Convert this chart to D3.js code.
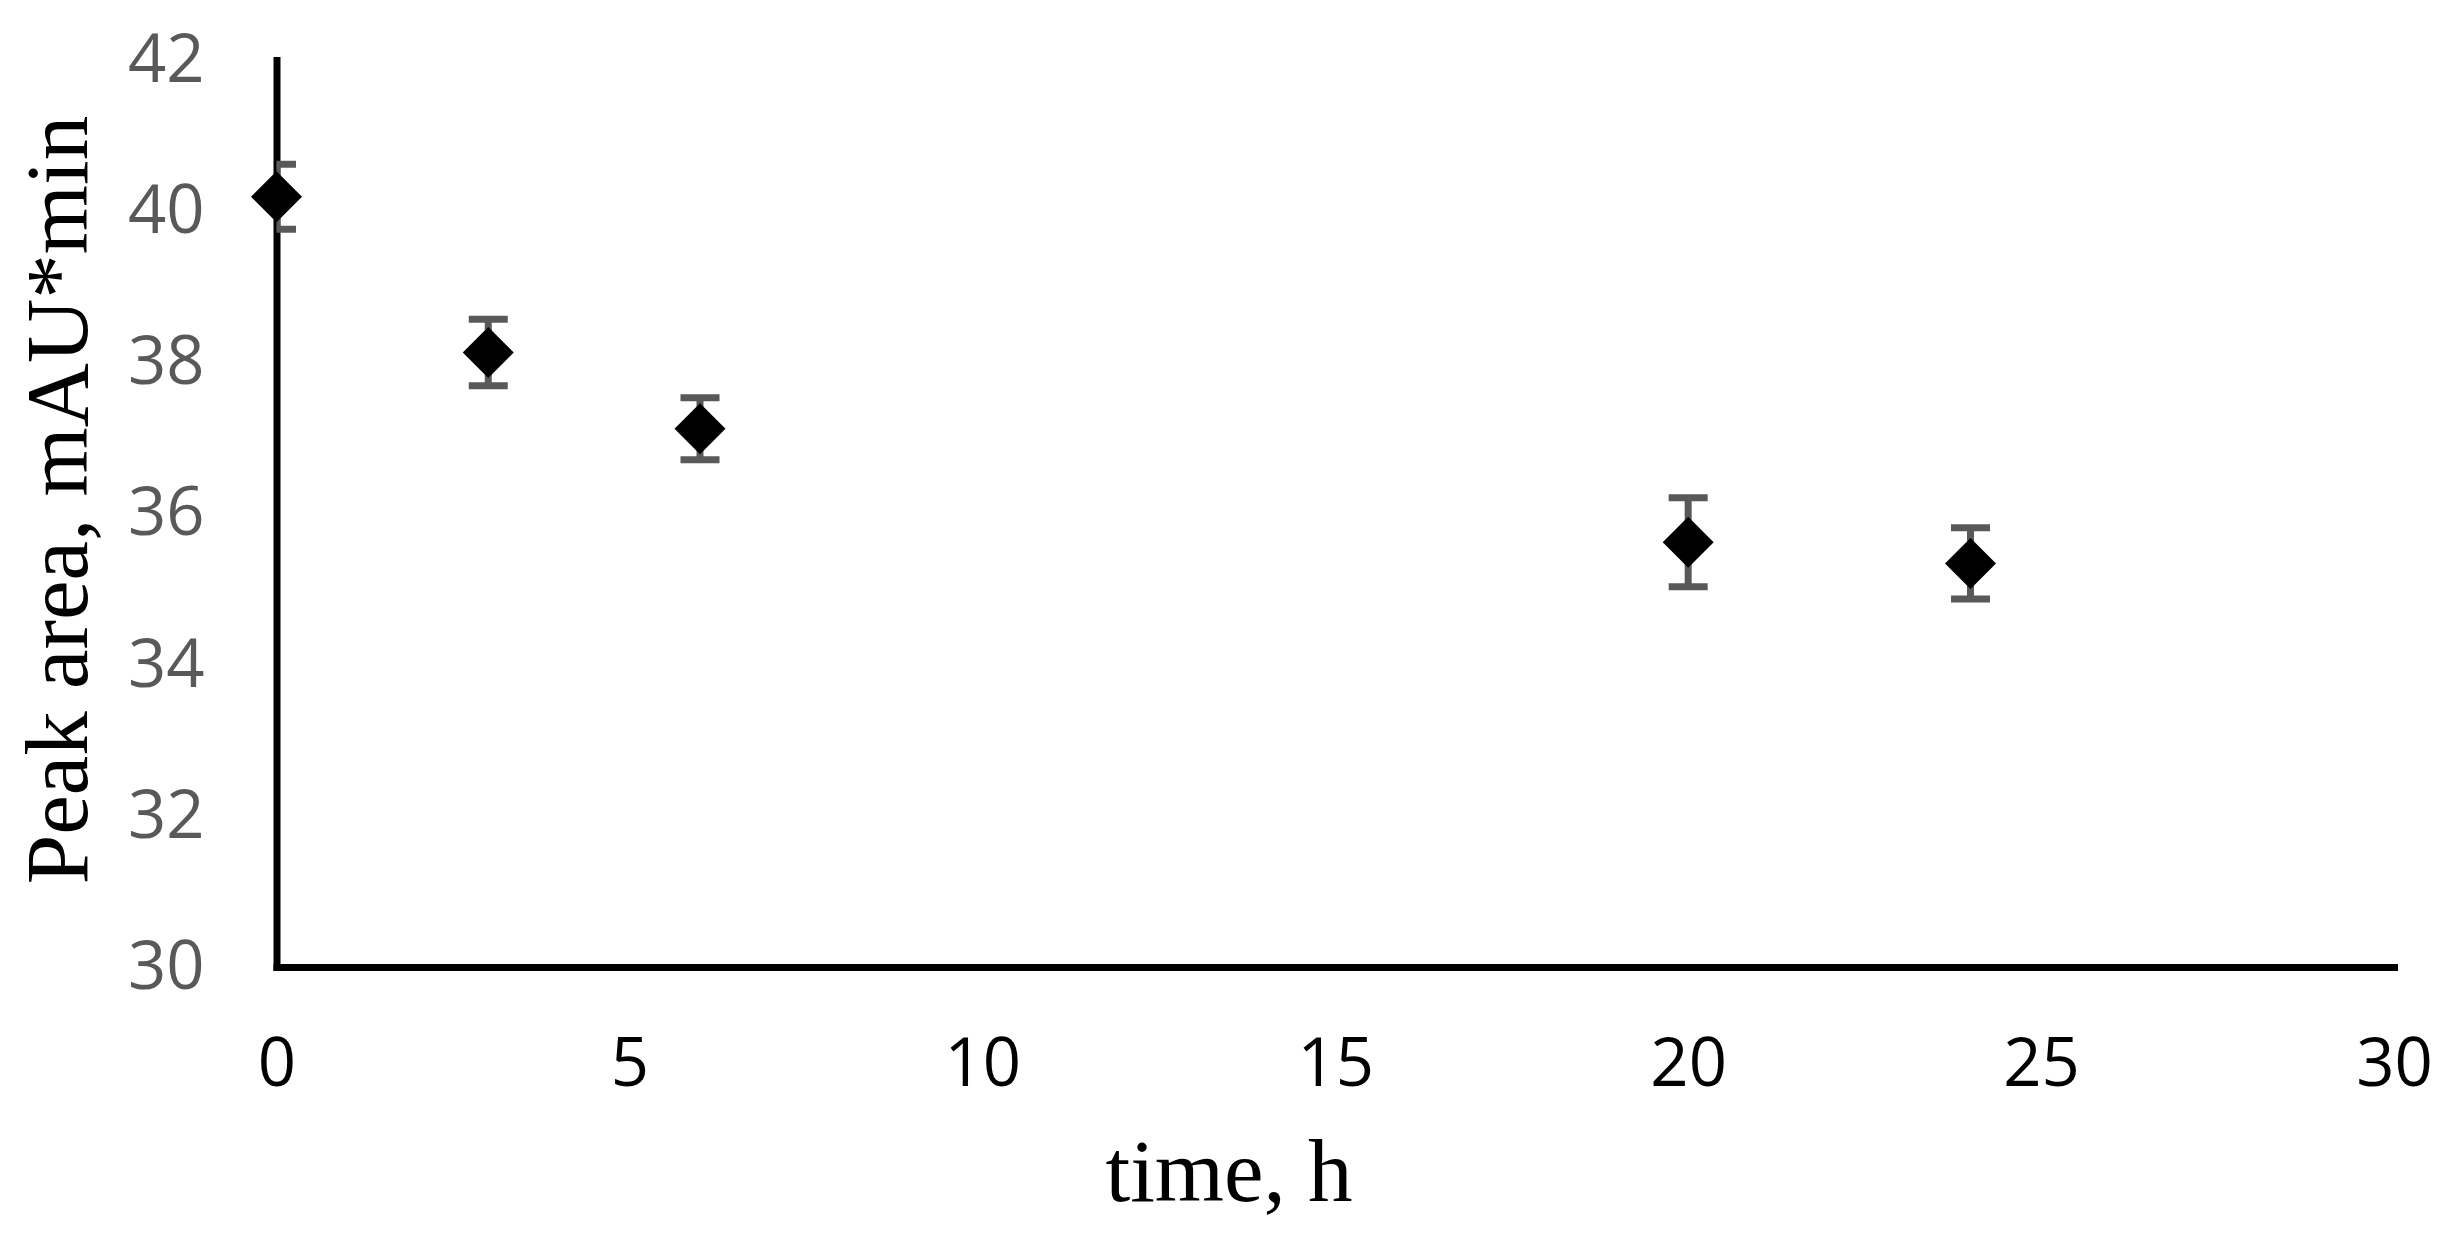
<!DOCTYPE html>
<html>
<head>
<meta charset="utf-8">
<script src="https://cdn.jsdelivr.net/npm/d3@7"></script>
<style>
  body { margin: 0; background: #fff; }
  svg { display: block; }
</style>
</head>
<body>
<svg width="2456" height="1237"></svg>
<script>
// data
const times = [0, 3, 6, 20, 24];
const peakArea = [40.19, 38.13, 37.12, 35.62, 35.34];
const errors = [0.43, 0.44, 0.41, 0.59, 0.47];
const xTicks = [0, 5, 10, 15, 20, 25, 30];
const yTicks = [30, 32, 34, 36, 38, 40, 42];

const data = times.map((t, i) => ({t: t, v: peakArea[i], e: errors[i]}));

const svg = d3.select("svg");

const x = d3.scaleLinear().domain([0, 30]).range([276.5, 2394]);
const y = d3.scaleLinear().domain([30, 42]).range([967, 60]);

const tickFont = "'Open Sans', 'Noto Sans', sans-serif";
const titleFont = "'Palatino Linotype', 'Book Antiqua', Palatino, 'Liberation Serif', serif";

// clip for error bars (plot area)
svg.append("defs").append("clipPath")
    .attr("id", "plotClip")
    .append("rect")
    .attr("x", x(0))
    .attr("y", 0)
    .attr("width", x(30) - x(0))
    .attr("height", y(30));

// y axis
const yAxis = svg.append("g")
    .attr("transform", `translate(${x(0)},0)`)
    .call(d3.axisLeft(y).tickValues(yTicks).tickSize(0).tickSizeOuter(0).tickPadding(72));
yAxis.select(".domain")
    .attr("stroke", "#000")
    .attr("stroke-width", 7)
    .attr("stroke-linecap", "square");
yAxis.selectAll("text")
    .attr("fill", "#595959")
    .style("font-family", tickFont)
    .style("font-size", "67px");

// x axis
const xAxis = svg.append("g")
    .attr("transform", `translate(0,${y(30)})`)
    .call(d3.axisBottom(x).tickValues(xTicks).tickSize(0).tickSizeOuter(0).tickPadding(71));
xAxis.select(".domain")
    .attr("stroke", "#000")
    .attr("stroke-width", 7)
    .attr("stroke-linecap", "square");
xAxis.selectAll("text")
    .attr("fill", "#000")
    .style("font-family", tickFont)
    .style("font-size", "67px");

// error bars
const capHalf = 19.5;
const bars = svg.append("g")
    .attr("clip-path", "url(#plotClip)")
    .attr("stroke", "#595959")
    .attr("stroke-width", 7);

bars.selectAll(".stem")
    .data(data)
    .enter().append("line")
    .attr("class", "stem")
    .attr("x1", d => x(d.t))
    .attr("x2", d => x(d.t))
    .attr("y1", d => y(d.v + d.e))
    .attr("y2", d => y(d.v - d.e));

bars.selectAll(".cap-top")
    .data(data)
    .enter().append("line")
    .attr("class", "cap-top")
    .attr("x1", d => x(d.t) - capHalf)
    .attr("x2", d => x(d.t) + capHalf)
    .attr("y1", d => y(d.v + d.e))
    .attr("y2", d => y(d.v + d.e));

bars.selectAll(".cap-bottom")
    .data(data)
    .enter().append("line")
    .attr("class", "cap-bottom")
    .attr("x1", d => x(d.t) - capHalf)
    .attr("x2", d => x(d.t) + capHalf)
    .attr("y1", d => y(d.v - d.e))
    .attr("y2", d => y(d.v - d.e));

// diamond markers
const diamond = d3.symbol().type(d3.symbolSquare).size(1300);
svg.append("g").selectAll("path")
    .data(data)
    .enter().append("path")
    .attr("d", diamond)
    .attr("transform", d => `translate(${x(d.t)},${y(d.v)}) rotate(45)`)
    .attr("fill", "#000");

// axis titles
svg.append("text")
    .attr("x", 1229)
    .attr("y", 1201)
    .attr("text-anchor", "middle")
    .style("font-family", titleFont)
    .style("font-size", "89px")
    .attr("fill", "#000")
    .text("time, h");

svg.append("text")
    .attr("transform", "translate(87,500) rotate(-90)")
    .attr("text-anchor", "middle")
    .style("font-family", titleFont)
    .style("font-size", "89px")
    .attr("fill", "#000")
    .text("Peak area, mAU*min");
</script>
</body>
</html>
